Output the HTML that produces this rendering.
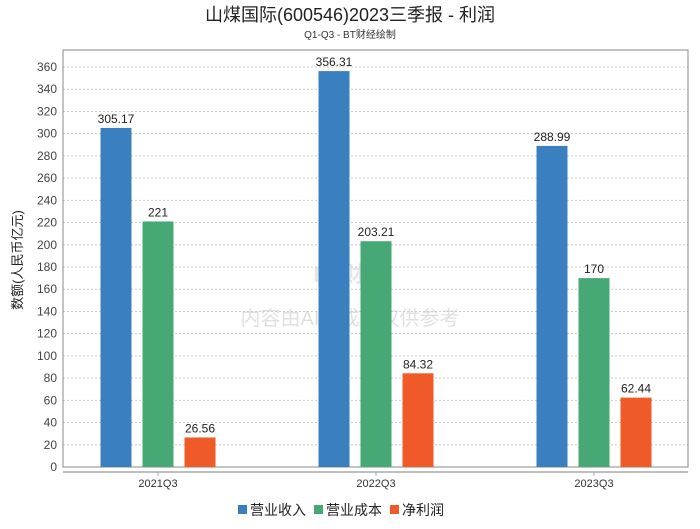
<!DOCTYPE html>
<html><head><meta charset="utf-8"><style>
body{margin:0;background:#fff;width:700px;height:524px;overflow:hidden;font-family:"Liberation Sans","Noto Sans CJK SC",sans-serif}
</style></head><body>
<svg width="700" height="524" id="c" font-family="Liberation Sans, Noto Sans CJK SC, sans-serif">
<text x="350" y="21" text-anchor="middle" font-size="18" fill="#222">山煤国际(600546)2023三季报 - 利润</text>
<text x="350" y="38" text-anchor="middle" font-size="10" fill="#333">Q1-Q3 - BT财经绘制</text>
<text transform="translate(22,260) rotate(-90)" text-anchor="middle" font-size="13" fill="#222">数额(人民币亿元)</text>
<text x="350" y="282" text-anchor="middle" font-size="22" fill="#ccd" opacity="0.5" font-weight="bold">BT财经</text>
<text x="350" y="325" text-anchor="middle" font-size="20" fill="#ccc" opacity="0.6">内容由AI生成，仅供参考</text>
<g id="g"></g>
</svg>
<script>
const categories=["2021Q3","2022Q3","2023Q3"];
const seriesNames=["营业收入","营业成本","净利润"];
const revenue=[305.17,356.31,288.99];
const cost=[221,203.21,170];
const profit=[26.56,84.32,62.44];
const yTicks=[0,20,40,60,80,100,120,140,160,180,200,220,240,260,280,300,320,340,360];
const colors=["#3a80c0","#46a874","#f05a28"];
const NS="http://www.w3.org/2000/svg";
const g=document.getElementById('g');
const L=63,R=688,T=50,B=467;
const y=v=>B-v*(400/360);
const x=i=>158+218*i;
function mk(t,a){const e=document.createElementNS(NS,t);for(const k in a)e.setAttribute(k,a[k]);g.appendChild(e);return e;}
yTicks.forEach(v=>{
  const l=mk('line',{x1:L,x2:R,y1:y(v),y2:y(v),stroke:'#ccc','stroke-dasharray':'2,2'});
  
  
  const t=mk('text',{x:L-6,y:y(v)+4,'text-anchor':'end','font-size':12,fill:'#444'});t.textContent=v;
  
  
});
const fr=mk('rect',{x:L,y:T,width:R-L,height:B-T,fill:'none',stroke:'#888'});


const ax=mk('line',{x1:L,x2:R,y1:B+5,y2:B+5,stroke:'#aaa','stroke-width':1.5});


const series=[revenue,cost,profit];
categories.forEach((c,i)=>{
  const t=mk('text',{x:x(i),y:487,'text-anchor':'middle','font-size':11,fill:'#333'});t.textContent=c;
  
  
  mk('line',{x1:x(i),x2:x(i),y1:B+5,y2:B+9,stroke:'#aaa'});
  series.forEach((s,j)=>{
    const cx=x(i)+(j-1)*42;
    const r=mk('rect',{x:cx-15.5,y:y(s[i]),width:31,height:B-y(s[i]),fill:colors[j]});
    
    
    const lb=mk('text',{x:cx,y:y(s[i])-5,'text-anchor':'middle','font-size':12,fill:'#222'});lb.textContent=s[i];
    
    
  });
});
let lx=238;
seriesNames.forEach((n,j)=>{
  const r=mk('rect',{x:lx,y:505,width:9,height:9,fill:colors[j]});
  
  
  const t=mk('text',{x:lx+12,y:515,'font-size':14,fill:'#222'});t.textContent=n;
  
  
  lx+=12+n.length*14+8;
});
</script>
</body></html>
